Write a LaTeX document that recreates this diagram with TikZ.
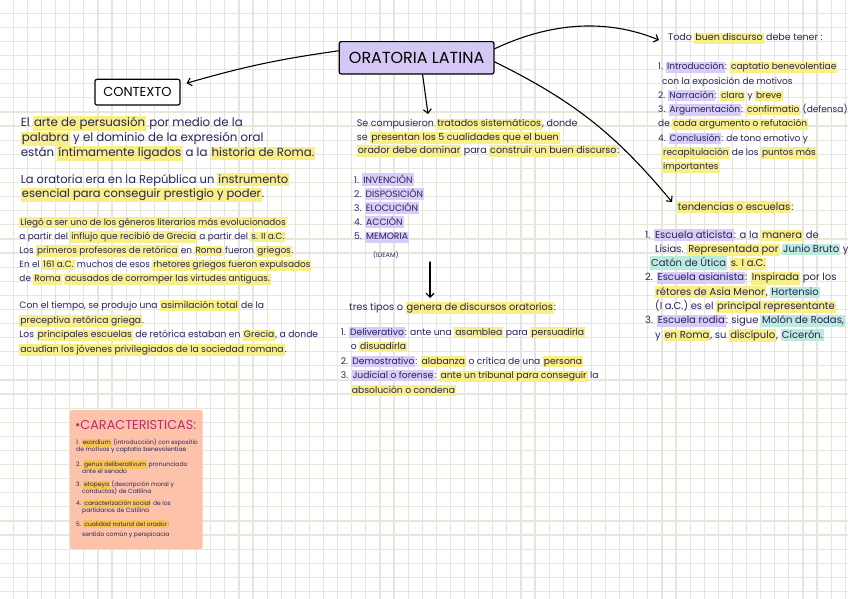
\documentclass[tikz,border=0pt]{standalone}
\usepackage{fontspec}
\setmainfont{Poppins}
\usetikzlibrary{arrows.meta}
\definecolor{ink}{HTML}{28235E}
\definecolor{gridc}{HTML}{E6E6DC}
\definecolor{hly}{HTML}{F8EF86}
\definecolor{hlp}{HTML}{D9CCF6}
\definecolor{hlg}{HTML}{BCEBDC}
\definecolor{hlo}{HTML}{F6C554}
\definecolor{titlef}{HTML}{D5C7F4}
\definecolor{peach}{HTML}{FCC2AA}
\definecolor{pinkt}{HTML}{C02A6E}
\newcommand\fz[2]{\fontsize{#1}{#2}\selectfont\lineskiplimit=-50pt\relax}
\newcommand\hbx[2]{{\fboxsep=1pt\colorbox{#1}{\rule[-0.2em]{0pt}{0.95em}#2}}}
\newcommand\hy[1]{\hbx{hly}{#1}}
\newcommand\hp[1]{\hbx{hlp}{#1}}
\newcommand\hg[1]{\hbx{hlg}{#1}}
\newcommand\ho[1]{\hbx{hlo}{#1}}
\tikzset{
  txt/.style={anchor=base west, inner sep=0pt, align=left, text=ink},
  arr/.style={draw=black, line width=1.1pt, line cap=round, -{Straight Barb[length=4pt,width=8pt]}},
  gridline/.style={draw=gridc, line width=1.2pt},
  boxstyle/.style={draw=black, line width=1.2pt, rounded corners=2pt, text=black, inner sep=0pt}
}
\begin{document}
\begin{tikzpicture}[x=1pt,y=-1pt]
\useasboundingbox (0,0) rectangle (848,599);
\fill[white] (0,0) rectangle (848,599);
% grid
\foreach \i in {0,...,59} {
  \draw[gridline] ({13.3+14.1*\i},0) -- ({13.3+14.1*\i},599);
}
\foreach \j in {0,...,41} {
  \draw[gridline] (0,{13.3+14.1*\j}) -- (848,{13.3+14.1*\j});
}
% boxes
\node[boxstyle, fill=titlef, minimum width=154.7pt, minimum height=32.3pt, font=\fz{16}{18}] (title) at (416.6,57.8) {ORATORIA LATINA};
\node[boxstyle, fill=white, minimum width=85pt, minimum height=25.7pt, font=\fz{13}{16}] (ctx) at (137.5,92.2) {CONTEXTO};

% left column (anchor = baseline of last line)
\node[txt, font=\fz{11.8}{15}] (c1) at (20.7,156.5) {El \hy{arte de persuasión} por medio de la\\
\hy{palabra} y el dominio de la expresión oral\\
están \hy{íntimamente ligados} a la \hy{historia de Roma.}};
\node[txt, font=\fz{11.5}{14.5}] (c2) at (20.7,197.5) {La oratoria era en la República un \hy{instrumento}\\
\hy{esencial para conseguir prestigio y poder}.};
\node[txt, font=\fz{8.9}{14.2}] (c3) at (19.3,281.8) {\hy{Llegó a ser uno de los géneros literarios más evolucionados}\\
a partir del \hy{influjo que recibió de Grecia} a partir del \hy{s. II a.C.}\\
Los \hy{primeros profesores de retórica} en \hy{Roma} fueron \hy{griegos}.\\
En el \hy{161 a.C.} muchos de esos \hy{rhetores griegos fueron expulsados}\\
de \hy{Roma} \hy{acusados de corromper las virtudes antiguas.}};
\node[txt, font=\fz{9.2}{14.6}] (c4) at (19.3,352.3) {Con el tiempo, se produjo una \hy{asimilación total} de la\\
\hy{preceptiva retórica griega}.\\
Los \hy{principales escuelas} de retórica estaban en \hy{Grecia}, a donde\\
\hy{acudían los jóvenes privilegiados de la sociedad romana}.};

% middle column
\node[txt, font=\fz{9.5}{13.3}] (m1) at (356.7,153.6) {Se compusieron \hy{tratados sistemáticos}, donde\\
se \hy{presentan los 5 cualidades que el buen}\\
\hy{orador debe dominar} para \hy{construir un buen discurso}:};
\node[txt, font=\fz{9.2}{14.2}] (m2) at (354,239.8) {1. \hp{INVENCIÓN}\\
2. \hp{DISPOSICIÓN}\\
3. \hp{ELOCUCIÓN}\\
4. \hp{ACCIÓN}\\
5. \hp{MEMORIA}};
\node[txt, font=\fz{6.5}{8}] (ideam) at (373,257) {(IDEAM)};
\node[txt, font=\fz{9.8}{13}] (m3) at (349,310) {tres tipos o \hy{genera de discursos oratorios}:};
\node[txt, font=\fz{9.2}{14.5}] (m4) at (340.7,393) {1. \hp{Deliverativo}: ante una \hy{asamblea} para \hy{persuadirla}\\
\hspace*{10pt}o \hy{disuadirla}\\
2. \hp{Demostrativo}: \hy{alabanza} o crítica de una \hy{persona}\\
3. \hp{Judicial o forense}: \hy{ante un tribunal para conseguir} la\\
\hspace*{10pt}\hy{absolución o condena}};

% right column
\node[txt, font=\fz{9.5}{12}] (r0) at (668,41) {Todo \hy{buen discurso} debe tener :};
\node[txt, font=\fz{9}{14.2}] (r1) at (658,169.4) {1. \hp{Introducción}: \hy{captatio benevolentiae}\\
\hspace*{4pt}con la exposición de motivos\\
2. \hp{Narración}: \hy{clara} y \hy{breve}\\
3. \hp{Argumentación}: \hy{confirmatio} (defensa)\\
de \hy{cada argumento o refutación}\\
4. \hp{Conclusión}: de tono emotivo y\\
\hspace*{4pt}\hy{recapitulación} de los \hy{puntos más}\\
\hspace*{4pt}\hy{importantes}};
\node[txt, font=\fz{10}{12}] (r2) at (676.7,210) {\hy{tendencias o escuelas}:};
\node[txt, font=\fz{10}{14.3}] (r3) at (645,338.1) {1. \hp{Escuela aticista}: a la \hy{manera} de\\
\hspace*{10pt}Lisias. \hy{Representada por} \hg{Junio Bruto} y\\
\hspace*{5pt}\hg{Catón de Útica} \hy{s. I a.C.}\\
2. \hp{Escuela asianista}: \hy{Inspirada} por los\\
\hspace*{10pt}\hy{rétores de Asia Menor}, \hg{Hortensio}\\
\hspace*{10pt}(I a.C.) es el \hy{principal representante}\\
3. \hp{Escuela rodia}: sigue \hg{Molón de Rodas,}\\
\hspace*{10pt}y \hy{en Roma}, su \hy{discípulo}, \hg{Cicerón.}};

% caracteristicas box
\node[draw=none, fill=peach, rounded corners=2pt, minimum width=132.7pt, minimum height=139pt, inner sep=0pt] (cbox) at (136.3,479.5) {};
\node[anchor=base west, inner sep=0pt, text=pinkt, font=\fz{12.8}{14}] (ct) at (75,429.5) {•CARACTERISTICAS:};
\node[txt, font=\fz{6}{7}] (k1) at (76,451.5) {1. \ho{exordium} (introducción) con expositio\\
de motivos y captatio benevolentiae};
\node[txt, font=\fz{6}{7}] (k2) at (76,473) {2. \ho{genus deliberativum} pronunciado\\
\hspace*{6pt}ante el senado};
\node[txt, font=\fz{6}{7}] (k3) at (76,493) {3. \ho{etopeya} (descripción moral y\\
\hspace*{6pt}conductas) de Catilina};
\node[txt, font=\fz{6}{7}] (k4) at (76,512.5) {4. \ho{caracterización social} de los\\
\hspace*{6pt}partidarios de Catilina};
\node[txt, font=\fz{6}{10.7}] (k5) at (76,536.7) {5. \ho{cualidad natural del orador}:\\
\hspace*{6pt}sentido común y perspicacia};

% connectors
\coordinate (tipmid) at (428,114);
\coordinate (tiptodo) at (659,40);
\coordinate (tiptend) at (672,202);
\coordinate (v1) at (430,262);
\coordinate (v2) at (430,298);
\draw[arr] ([yshift=7pt]title.west) to[bend right=4] ([xshift=6pt,yshift=9pt]ctx.east);
\draw[arr] ([xshift=6pt]title.south) -- (tipmid);
\draw[arr] ([yshift=9pt]title.east) .. controls (560,18) and (615,22) .. (tiptodo);
\draw[arr] ([yshift=-4pt]title.east) to[bend left=12] (tiptend);
\draw[arr] (v1) -- (v2);
\end{tikzpicture}
\end{document}
